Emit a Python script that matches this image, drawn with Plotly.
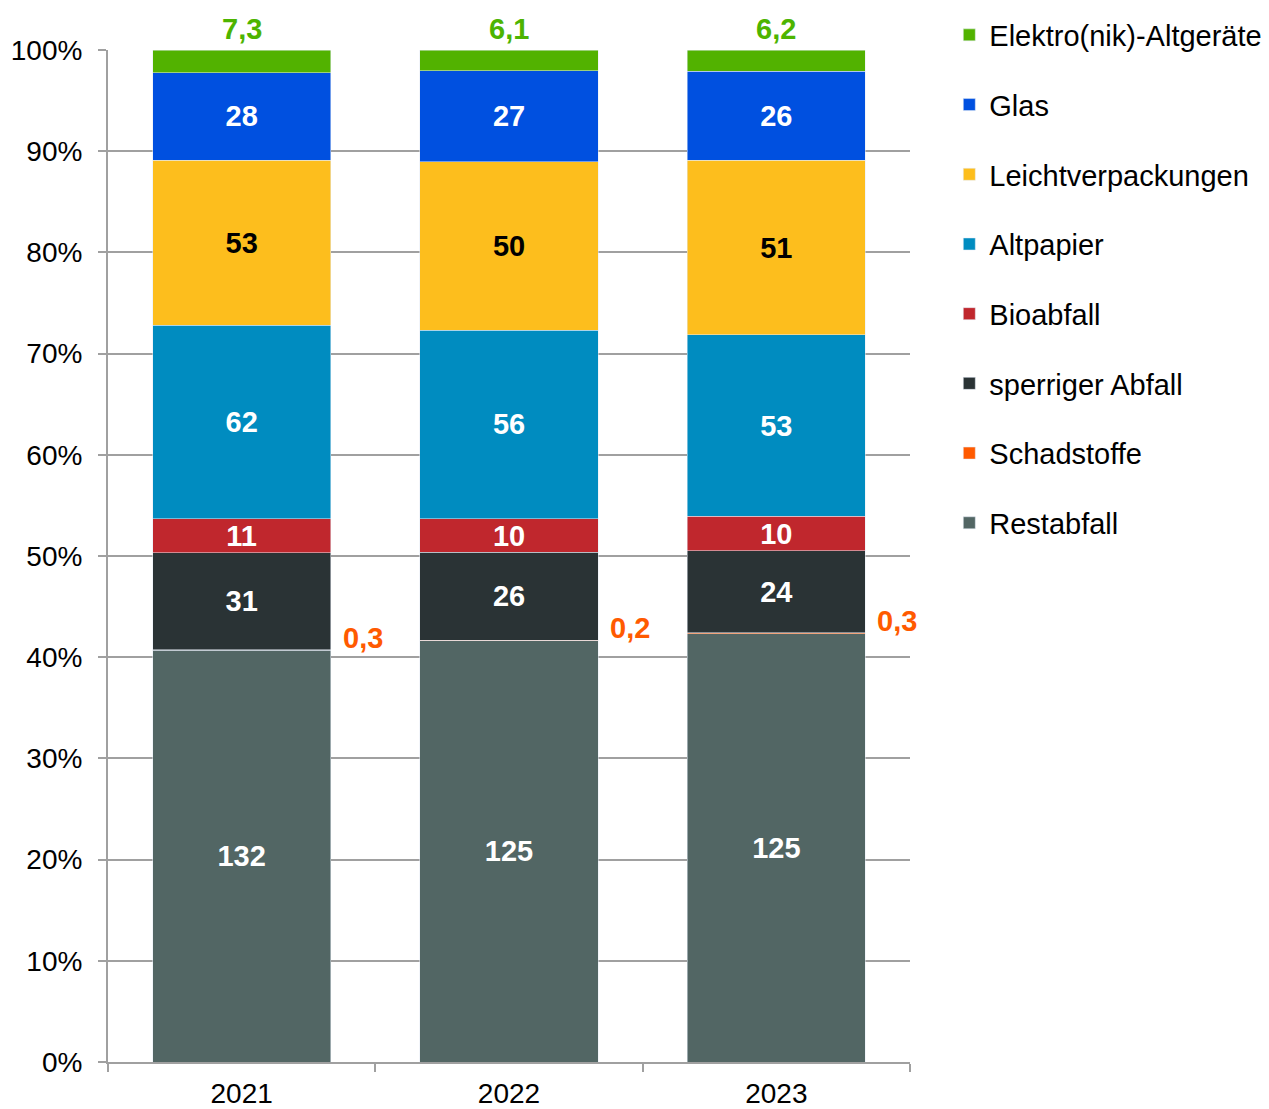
import plotly.graph_objects as go

years = ["2021", "2022", "2023"]

# values per fraction, bottom of the stack first
restabfall = [132, 125, 125]
schadstoffe = [0.3, 0.2, 0.3]
sperriger = [31, 26, 24]
bioabfall = [11, 10, 10]
altpapier = [62, 56, 53]
leichtverp = [53, 50, 51]
glas = [28, 27, 26]
elektro = [7.3, 6.1, 6.2]

series = [
    ("Restabfall", restabfall, "#526664", "white"),
    ("Schadstoffe", schadstoffe, "#FF5A00", None),
    ("sperriger Abfall", sperriger, "#2A3335", "white"),
    ("Bioabfall", bioabfall, "#C0272D", "white"),
    ("Altpapier", altpapier, "#008CC0", "white"),
    ("Leichtverpackungen", leichtverp, "#FDBE1D", "black"),
    ("Glas", glas, "#0050E0", "white"),
    ("Elektro(nik)-Altgeräte", elektro, "#52B200", None),
]

FONT = "Liberation Sans, Arial, sans-serif"


def fmt(v):
    s = f"{v:g}"
    return s.replace(".", ",")


fig = go.Figure()
for i, (name, vals, col, tcol) in enumerate(series):
    fig.add_trace(go.Bar(
        x=years, y=vals, name=name,
        marker_color=col,
        text=["<b>%s</b>" % fmt(v) for v in vals] if tcol else None,
        textposition="inside" if tcol else "none",
        insidetextanchor="middle",
        textangle=0,
        constraintext="none",
        textfont=dict(family=FONT, size=29, color=tcol or "black"),
        legendgroup=name,
        legendrank=len(series) - i,
    ))

totals = [sum(s[1][j] for s in series) for j in range(len(years))]

# Elektro labels above the bars, Schadstoffe labels right of the bars
for j, yr in enumerate(years):
    fig.add_annotation(x=j, y=100, text="<b>%s</b>" % fmt(elektro[j]), showarrow=False,
                       yanchor="bottom", yshift=3,
                       font=dict(family=FONT, size=29, color="#4DB400"))
    band = (restabfall[j] + schadstoffe[j]) / totals[j] * 100
    fig.add_annotation(x=j, y=band, text="<b>%s</b>" % fmt(schadstoffe[j]), showarrow=False,
                       xanchor="left", yanchor="bottom", xshift=99, yshift=-6,
                       font=dict(family=FONT, size=29, color="#FF5A00"))

fig.update_layout(
    barmode="stack", barnorm="percent", bargap=0.333,
    width=1269, height=1109,
    margin=dict(l=100, r=367, t=42, b=55, autoexpand=False),
    plot_bgcolor="white", paper_bgcolor="white",
    font=dict(family=FONT, size=28, color="black"),
    legend=dict(traceorder="grouped", x=1.049, y=1.04, xanchor="left",
                yanchor="top", font=dict(size=29), tracegroupgap=29),
    xaxis=dict(type="category", range=[-0.5, 2.5], showline=True, linecolor="#A0A0A0",
               linewidth=2, ticks="outside", tickson="boundaries", ticklen=8,
               tickcolor="#A0A0A0", tickwidth=2, tickangle=0, ticklabelstandoff=5),
    yaxis=dict(range=[0, 100], dtick=10, ticksuffix="%", showgrid=True,
               gridcolor="#A0A0A0", gridwidth=2, showline=True, linecolor="#A0A0A0",
               linewidth=2, ticks="outside", ticklen=8, tickcolor="#A0A0A0",
               tickwidth=2, zeroline=False, ticklabelstandoff=10),
)

fig.write_html("out.html")
